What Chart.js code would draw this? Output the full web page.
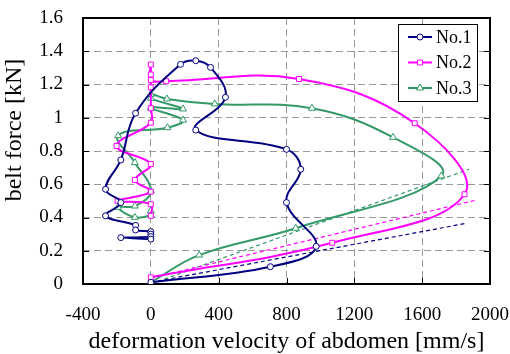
<!DOCTYPE html>
<html>
<head>
<meta charset="utf-8">
<script src="https://cdn.jsdelivr.net/npm/chart.js@4.4.1/dist/chart.umd.min.js"></script>
<style>
  html, body { margin: 0; padding: 0; background: #fff; }
</style>
</head>
<body>
<canvas id="forceChart" width="510" height="354"></canvas>
<script>
// axis ticks
const xTickValues = [-400, 0, 400, 800, 1200, 1600, 2000];
const yTickValues = [0, 0.2, 0.4, 0.6, 0.8, 1, 1.2, 1.4, 1.6];

// No.1
const no1Velocity = [0, 705, 975, 800, 884, 800, 265, 440, 352, 265, 175, -90, -177, -267, -177, -267, -90, -90, 0, 0, 0, -177, 0];
const no1Force = [0.01, 0.104, 0.226, 0.49, 0.69, 0.81, 0.926, 1.123, 1.303, 1.343, 1.321, 1.027, 0.746, 0.57, 0.49, 0.41, 0.353, 0.325, 0.315, 0.30, 0.285, 0.279, 0.27];

// No.2
const no2Velocity = [0, 1070, 1850, 1556, 874, 90, 0, 0, 0, 0, 0, 0, -202, 0, -94, 0, -196, 0, 0];
const no2Force = [0.04, 0.248, 0.54, 0.967, 1.233, 1.22, 1.227, 1.32, 1.26, 1.183, 1.057, 0.97, 0.83, 0.722, 0.626, 0.555, 0.5, 0.48, 0.41];

// No.3
const no3Velocity = [0, 285, 854, 1713, 1428, 950, 377, 95, 0, 0, 190, 0, 190, 98, -193, -94, 0, -94, -193, -94, 0, 0];
const no3Force = [0.01, 0.174, 0.335, 0.65, 0.882, 1.057, 1.083, 1.113, 1.141, 1.117, 1.053, 1.06, 0.986, 0.94, 0.892, 0.73, 0.56, 0.469, 0.461, 0.401, 0.415, 0.44];

// linear trend lines (start, end)
const no1TrendX = [0, 1860];
const no1TrendY = [0.01, 0.365];
const no2TrendX = [0, 1920];
const no2TrendY = [0.035, 0.505];
const no3TrendX = [0, 1876];
const no3TrendY = [0, 0.69];

const seriesNames = ['No.1', 'No.2', 'No.3'];

const NAVY = '#000080';
const MAGENTA = '#ff00ff';
const GREEN = '#339966';
const FONT = "'Liberation Serif', 'Times New Roman', serif";

function toPoints(xs, ys) {
    return xs.map((x, i) => ({ x: x, y: ys[i] }));
}

function seriesDataset(label, xs, ys, color, style, radius) {
    return {
        label: label,
        data: toPoints(xs, ys),
        showLine: true,
        borderColor: color,
        borderWidth: 2,
        tension: 0.4,
        pointStyle: style,
        pointRadius: radius,
        pointBackgroundColor: '#fff',
        pointBorderColor: color,
        pointBorderWidth: 1,
        order: 0
    };
}

function trendDataset(xs, ys, color) {
    return {
        label: 'trend',
        data: toPoints(xs, ys),
        showLine: true,
        borderColor: color,
        borderWidth: 1.2,
        borderDash: [4, 3],
        pointRadius: 0,
        tension: 0,
        order: 1
    };
}

const framePlugin = {
    id: 'frame',
    beforeDatasetsDraw(chart) {
        const { ctx, chartArea: a, scales } = chart;
        ctx.save();
        ctx.strokeStyle = '#000';
        ctx.lineWidth = 1;
        ctx.beginPath();
        scales.x.ticks.forEach(t => {
            const px = Math.round(scales.x.getPixelForValue(t.value)) + 0.5;
            ctx.moveTo(px, a.bottom);
            ctx.lineTo(px, a.bottom - 6);
        });
        scales.y.ticks.forEach(t => {
            const py = Math.round(scales.y.getPixelForValue(t.value)) + 0.5;
            ctx.moveTo(a.left, py);
            ctx.lineTo(a.left + 6, py);
            ctx.moveTo(a.right, py);
            ctx.lineTo(a.right - 6, py);
        });
        ctx.stroke();
        ctx.lineWidth = 2;
        ctx.strokeRect(a.left, a.top, a.right - a.left, a.bottom - a.top);
        ctx.restore();
    },
    afterDraw(chart) {
        // y axis title, set a little above the middle of the axis as in the source
        const ctx = chart.ctx;
        ctx.save();
        ctx.translate(15, 130);
        ctx.rotate(-Math.PI / 2);
        ctx.font = '24px ' + FONT;
        ctx.fillStyle = '#000';
        ctx.textAlign = 'center';
        ctx.textBaseline = 'middle';
        ctx.fillText('belt force [kN]', 0, 0);
        ctx.restore();
    }
};

const legendPlugin = {
    id: 'boxLegend',
    afterDraw(chart) {
        const ctx = chart.ctx;
        const x0 = 398, y0 = 24, w = 79, h = 77;
        ctx.save();
        ctx.fillStyle = '#fff';
        ctx.fillRect(x0, y0, w, h);
        ctx.strokeStyle = '#000';
        ctx.lineWidth = 1;
        ctx.strokeRect(x0 + 0.5, y0 + 0.5, w, h);
        ctx.font = '18px ' + FONT;
        ctx.textBaseline = 'middle';
        ctx.fillStyle = '#000';
        seriesNames.forEach((name, i) => {
            const ds = chart.data.datasets[i];
            const y = 37 + i * 25.5;
            ctx.strokeStyle = ds.borderColor;
            ctx.lineWidth = 2;
            ctx.beginPath();
            ctx.moveTo(408, y);
            ctx.lineTo(432, y);
            ctx.stroke();
            ctx.lineWidth = 1;
            ctx.fillStyle = '#fff';
            Chart.helpers.drawPoint(ctx, {
                pointStyle: ds.pointStyle,
                radius: ds.pointRadius,
                borderWidth: 1,
                rotation: 0
            }, 420, y);
            ctx.fillStyle = '#000';
            ctx.fillText(name, 436, y + 1);
        });
        ctx.restore();
    }
};

const ctx = document.getElementById('forceChart').getContext('2d');

const forceChart = new Chart(ctx, {
    type: 'scatter',
    data: {
        datasets: [
            seriesDataset(seriesNames[0], no1Velocity, no1Force, NAVY, 'circle', 3),
            seriesDataset(seriesNames[1], no2Velocity, no2Force, MAGENTA, 'rect', 3.5),
            seriesDataset(seriesNames[2], no3Velocity, no3Force, GREEN, 'triangle', 4),
            trendDataset(no1TrendX, no1TrendY, NAVY),
            trendDataset(no2TrendX, no2TrendY, MAGENTA),
            trendDataset(no3TrendX, no3TrendY, GREEN)
        ]
    },
    options: {
        responsive: false,
        animation: false,
        layout: { padding: { top: 18, right: 20, left: 0, bottom: 0 } },
        plugins: {
            legend: { display: false },
            tooltip: { enabled: false }
        },
        scales: {
            x: {
                type: 'linear',
                min: -400,
                max: 2000,
                afterBuildTicks: scale => { scale.ticks = xTickValues.map(v => ({ value: v })); },
                afterFit: scale => {
                    scale.height = 70;
                    scale.paddingLeft = 0;
                    scale.paddingRight = 0;
                },
                ticks: {
                    color: '#000',
                    padding: 20,
                    font: { family: FONT, size: 19 },
                    callback: v => String(v)
                },
                grid: { color: '#999', lineWidth: 1, drawTicks: false },
                border: { display: false, dash: [7, 4] },
                title: {
                    display: true,
                    text: 'deformation velocity of abdomen [mm/s]',
                    color: '#000',
                    font: { family: FONT, size: 24, lineHeight: 1 },
                    padding: { top: 0, bottom: 0 }
                }
            },
            y: {
                type: 'linear',
                min: 0,
                max: 1.6,
                afterBuildTicks: scale => { scale.ticks = yTickValues.map(v => ({ value: v })); },
                afterFit: scale => {
                    scale.width = 83;
                    scale.paddingTop = 0;
                    scale.paddingBottom = 0;
                },
                ticks: {
                    color: '#000',
                    padding: 20,
                    font: { family: FONT, size: 19 },
                    callback: v => String(v)
                },
                grid: { color: '#999', lineWidth: 1, drawTicks: false },
                border: { display: false, dash: [7, 4] }
            }
        }
    },
    plugins: [framePlugin, legendPlugin]
});
</script>
</body>
</html>
